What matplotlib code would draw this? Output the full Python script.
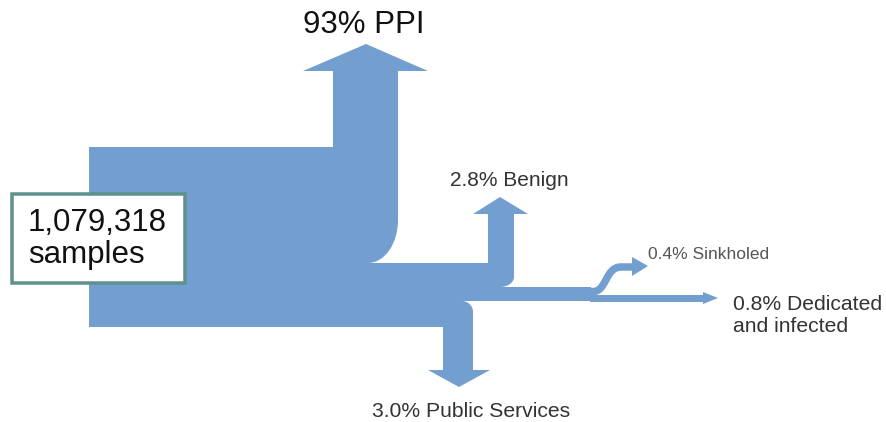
import matplotlib
matplotlib.use('Agg')
import matplotlib.pyplot as plt
from matplotlib.path import Path
from matplotlib.patches import PathPatch, Polygon, Rectangle

plt.rcParams['font.family'] = ['Liberation Sans', 'DejaVu Sans']

# data
n_samples = 1079318
flow_names = ['PPI', 'Benign', 'Public Services', 'Sinkholed', 'Dedicated\nand infected']
flow_pct = [93, 2.8, 3.0, 0.4, 0.8]
pct_digits = [0, 1, 1, 1, 1]

BLUE = '#729fcf'
K = 0.5523  # bezier quarter-ellipse factor

fig = plt.figure(figsize=(8.86, 4.22), dpi=100)
ax = fig.add_axes([0, 0, 1, 1])
ax.set_xlim(0, 886); ax.set_ylim(422, 0)
ax.axis('off')


def quarter(p0, p1, corner):
    # cubic bezier from p0 to p1 bulging towards corner
    c1 = (p0[0] + K * (corner[0] - p0[0]), p0[1] + K * (corner[1] - p0[1]))
    c2 = (p1[0] + K * (corner[0] - p1[0]), p1[1] + K * (corner[1] - p1[1]))
    return [c1, c2, p1]


# main trunk outline (pixel layout, y down)
verts = [(89, 147), (333, 147), (333, 71), (303, 71), (366, 44), (428, 71), (398, 71), (398, 220)]
codes = [Path.MOVETO] + [Path.LINETO] * 7
verts += quarter((398, 220), (368, 263), (398, 263)); codes += [Path.CURVE4] * 3
verts += [(488, 263), (488, 214), (473, 214), (500, 197), (528, 214), (514, 214), (514, 277)]
codes += [Path.LINETO] * 7
verts += quarter((514, 277), (500, 287), (514, 287)); codes += [Path.CURVE4] * 3
verts += [(591, 287), (591, 301), (462, 301)]
codes += [Path.LINETO] * 3
verts += quarter((462, 301), (473, 312), (473, 301)); codes += [Path.CURVE4] * 3
verts += [(473, 370), (490, 370), (459, 387), (428, 370), (443, 370), (443, 327), (89, 327), (89, 147)]
codes += [Path.LINETO] * 7 + [Path.CLOSEPOLY]
ax.add_patch(PathPatch(Path(verts, codes), facecolor=BLUE, edgecolor='none'))

# dedicated and infected: straight arrow
ax.add_patch(Rectangle((590, 294.5), 114, 7, facecolor=BLUE, edgecolor='none'))
ax.add_patch(Polygon([(703, 292), (718, 298), (703, 304)], closed=True, facecolor=BLUE, edgecolor='none'))

# sinkholed: s-shaped arrow
s_path = Path([(590, 291.5), (593, 291.5), (607, 291.5), (605, 267), (621, 267), (633, 267)],
              [Path.MOVETO, Path.LINETO, Path.CURVE4, Path.CURVE4, Path.CURVE4, Path.LINETO])
ax.add_patch(PathPatch(s_path, fill=False, edgecolor=BLUE, lw=7.5 * 0.72, capstyle='butt', joinstyle='round'))
ax.add_patch(Polygon([(632, 257), (648, 266), (632, 276)], closed=True, facecolor=BLUE, edgecolor='none'))

# labels
labels = [f'{p:.{d}f}% {n}' for p, n, d in zip(flow_pct, flow_names, pct_digits)]
ax.text(364, 33, labels[0], fontsize=22.5, color='#111111', ha='center', va='baseline')
ax.text(509, 186, labels[1], fontsize=15, color='#333333', ha='center', va='baseline')
ax.text(471, 417, labels[2], fontsize=15.2, color='#333333', ha='center', va='baseline')
ax.text(648, 259, labels[3], fontsize=12.5, color='#555555', ha='left', va='baseline')
ax.text(733, 332, labels[4], fontsize=15.2, color='#333333', ha='left', va='baseline', linespacing=1.2)

# sample count box
ax.add_patch(Rectangle((12, 194), 173, 89, facecolor='white', edgecolor='#5f918d', lw=3.5 * 0.72))
ax.text(28, 263, f'{n_samples:,}\nsamples', fontsize=22.5, color='#111111', ha='left', va='baseline',
        linespacing=1.1)

fig.savefig('out.png', dpi=100, facecolor='white')
